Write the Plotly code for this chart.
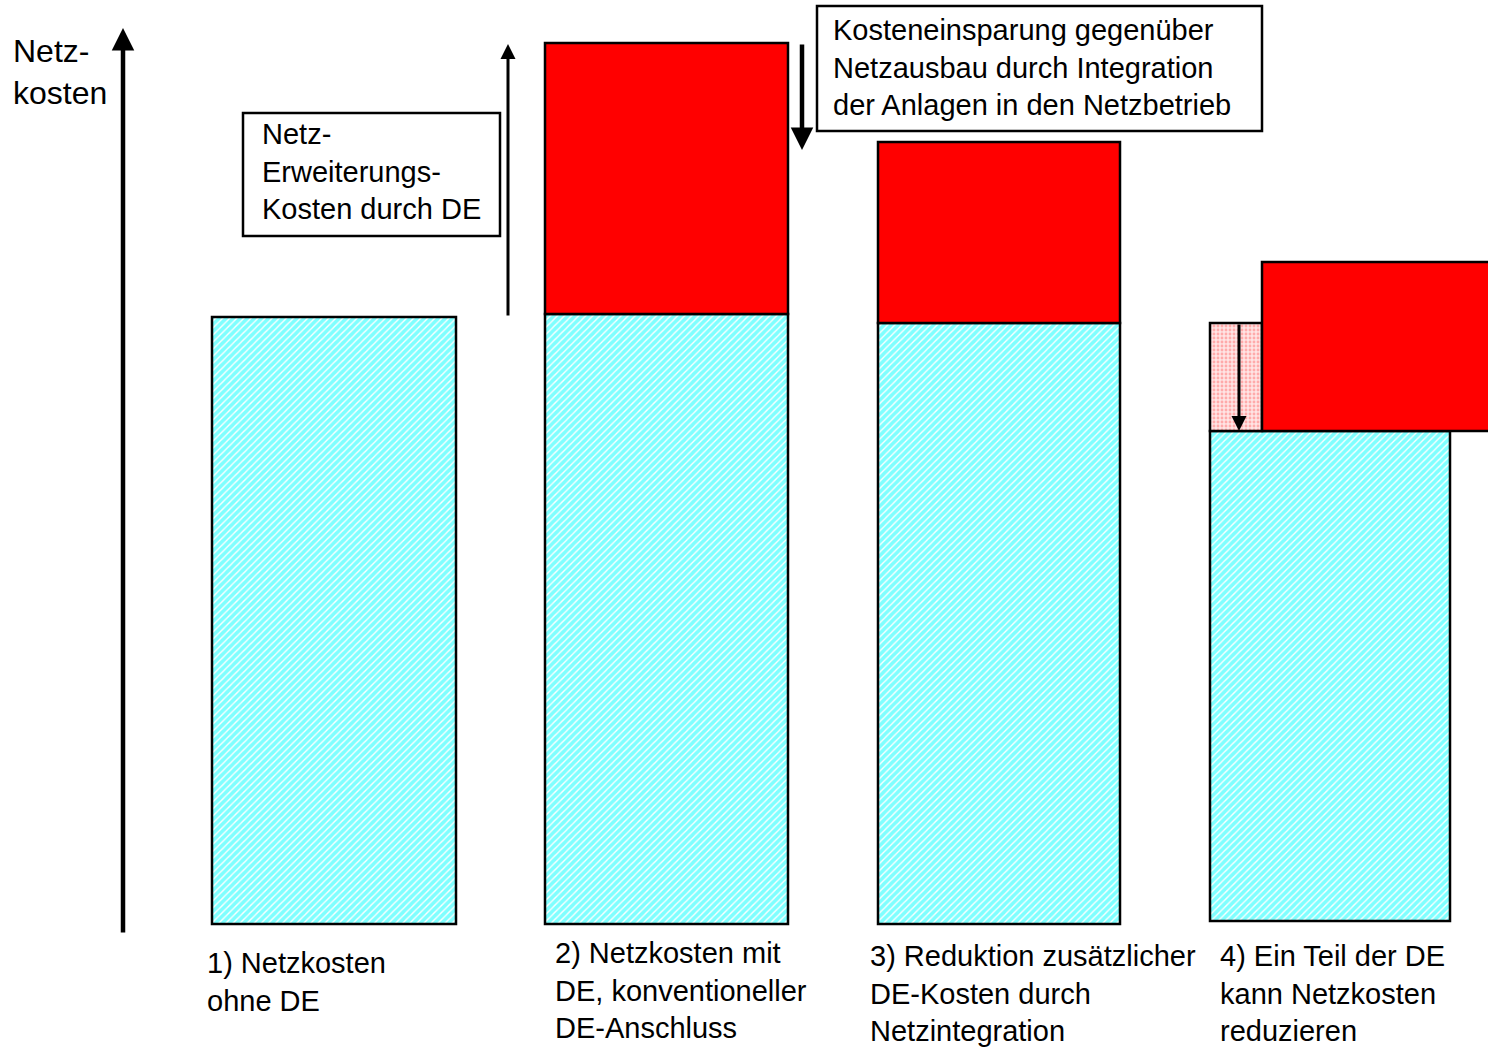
import plotly.graph_objects as go

# Scenario labels (one per column)
scenarios = [
    "1) Netzkosten<br>ohne DE",
    "2) Netzkosten mit<br>DE, konventioneller<br>DE-Anschluss",
    "3) Reduktion zusätzlicher<br>DE-Kosten durch<br>Netzintegration",
    "4) Ein Teil der DE<br>kann Netzkosten<br>reduzieren",
]
# Base grid costs per scenario (arbitrary units)
grid_costs = [607, 610, 601, 490]
# Additional grid-extension costs caused by distributed generation (DE)
de_costs = [0, 271, 181, 169]
# Grid-cost reduction achieved by DE in scenario 4
grid_reduction = 108

# Layout geometry (pixel-based data coordinates)
W, H = 1488, 1047
BASELINE = 924
col_x = [334, 666.5, 999, 1330]
col_w = [244, 243, 242, 240]
col_base = [0, 0, 0, 3]
red4_x, red4_w = 1381, 238
pink_x, pink_w = 1236, 52

CYAN = "#00FFFF"
RED = "#FF0000"
FONT = "Liberation Sans, Arial, sans-serif"

fig = go.Figure()

# grid cost bars (cyan hatched)
fig.add_trace(go.Bar(
    x=col_x, y=grid_costs, width=col_w, base=col_base,
    marker=dict(color="white",
                line=dict(color="black", width=2.5),
                pattern=dict(shape="/", fgcolor=CYAN, bgcolor="white",
                             size=5, solidity=0.72)),
    showlegend=False, hoverinfo="skip",
))

# reduction part in scenario 4 (light red dotted)
fig.add_trace(go.Bar(
    x=[pink_x], y=[grid_reduction], width=[pink_w],
    base=[col_base[3] + grid_costs[3]],
    marker=dict(color="white",
                line=dict(color="black", width=2.5),
                pattern=dict(shape=".", fgcolor="#FF7070", bgcolor="#FFE4E4",
                             size=4, solidity=0.4)),
    showlegend=False, hoverinfo="skip",
))

# DE extension costs (red)
fig.add_trace(go.Bar(
    x=[col_x[1], col_x[2], red4_x], y=de_costs[1:],
    width=[col_w[1], col_w[2], red4_w],
    base=[b + g for b, g in zip(col_base[1:], grid_costs[1:])],
    marker=dict(color=RED, line=dict(color="black", width=2.5)),
    showlegend=False, hoverinfo="skip",
))


def val(py):
    """convert a pixel row to a value on the cost axis"""
    return BASELINE - py


annotations = []


def arrow(x, y0, y1, width):
    annotations.append(dict(
        x=x, y=val(y1), ax=x, ay=val(y0), xref="x", yref="y",
        axref="x", ayref="y", text="", showarrow=True,
        arrowhead=2, arrowsize=1.0, arrowwidth=width, arrowcolor="black",
    ))


# cost axis arrow
arrow(123, 934, 28, 4.5)
# increase arrow next to scenario 2
arrow(508, 317, 44, 3)
# saving arrow (down) between scenario 2 and the text box
arrow(802, 43, 150, 4.5)
# reduction arrow in scenario 4
arrow(1239, 323, 431, 3)


def text(x, py, s, size=29):
    annotations.append(dict(
        x=x, y=val(py), xref="x", yref="y", text=s, showarrow=False,
        xanchor="left", yanchor="top", align="left",
        font=dict(family=FONT, size=size, color="black"),
    ))


text(11, 31, "Netz-<br>kosten", 32)
text(260, 116, "Netz-<br>Erweiterungs-<br>Kosten durch DE")
text(831, 12, "Kosteneinsparung gegenüber<br>Netzausbau durch Integration<br>der Anlagen in den Netzbetrieb")

label_x = [205, 553, 868, 1218]
label_y = [945, 935, 938, 938]
for lx, ly, s in zip(label_x, label_y, scenarios):
    text(lx, ly, s)

shapes = [
    dict(type="rect", xref="x", yref="y", x0=243, x1=500,
         y0=val(113), y1=val(236), line=dict(color="black", width=2.5),
         fillcolor="white", layer="below"),
    dict(type="rect", xref="x", yref="y", x0=817, x1=1262,
         y0=val(6), y1=val(131), line=dict(color="black", width=2.5),
         fillcolor="white", layer="below"),
]

fig.update_layout(
    width=W, height=H,
    margin=dict(l=0, r=0, t=0, b=0),
    paper_bgcolor="white", plot_bgcolor="white",
    barmode="overlay",
    xaxis=dict(range=[0, W], visible=False, fixedrange=True),
    yaxis=dict(range=[BASELINE - H, BASELINE], visible=False, fixedrange=True),
    annotations=annotations,
    shapes=shapes,
)

fig.write_html("out.html")
